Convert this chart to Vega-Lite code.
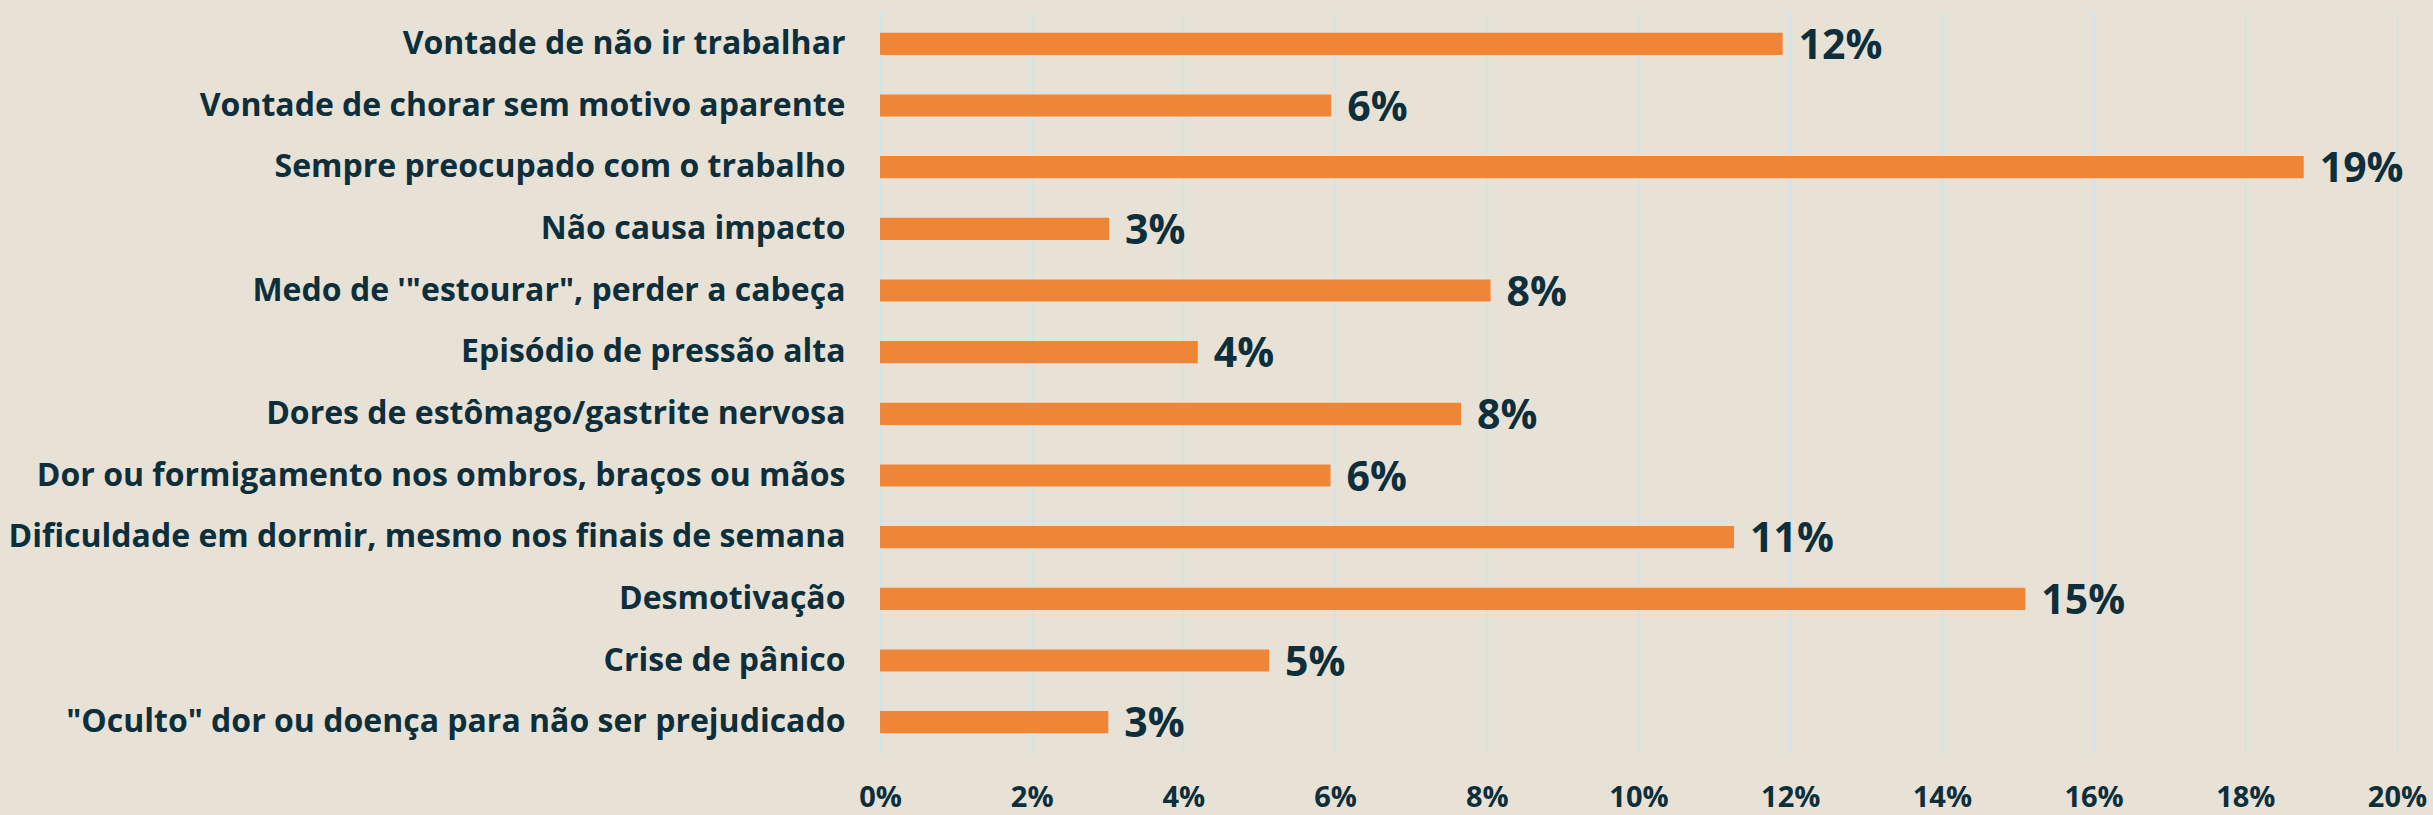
{
  "$schema": "https://vega.github.io/schema/vega-lite/v6.json",
  "width": 1517,
  "height": 740,
  "autosize": {"type": "none"},
  "padding": {"left": 880, "top": 13, "right": 36, "bottom": 62},
  "background": "#e8e1d6",
  "config": {"view": {"stroke": null}},
  "data": {
    "values": [
      {"cat": "Vontade de não ir trabalhar", "v": 11.9, "lbl": "12%"},
      {"cat": "Vontade de chorar sem motivo aparente", "v": 5.95, "lbl": "6%"},
      {"cat": "Sempre preocupado com o trabalho", "v": 18.77, "lbl": "19%"},
      {"cat": "Não causa impacto", "v": 3.02, "lbl": "3%"},
      {"cat": "Medo de '\"estourar\", perder a cabeça", "v": 8.05, "lbl": "8%"},
      {"cat": "Episódio de pressão alta", "v": 4.19, "lbl": "4%"},
      {"cat": "Dores de estômago/gastrite nervosa", "v": 7.66, "lbl": "8%"},
      {"cat": "Dor ou formigamento nos ombros, braços ou mãos", "v": 5.94, "lbl": "6%"},
      {"cat": "Dificuldade em dormir, mesmo nos finais de semana", "v": 11.26, "lbl": "11%"},
      {"cat": "Desmotivação", "v": 15.1, "lbl": "15%"},
      {"cat": "Crise de pânico", "v": 5.13, "lbl": "5%"},
      {"cat": "\"Oculto\" dor ou doença para não ser prejudicado", "v": 3.01, "lbl": "3%"}
    ]
  },
  "encoding": {
    "y": {
      "field": "cat", "type": "nominal", "sort": null, "title": null,
      "scale": {"paddingInner": 0.64, "paddingOuter": 0.32},
      "axis": {"domain": false, "ticks": false, "grid": false, "labelPadding": 35,
               "labelFont": "Open Sans", "labelFontWeight": "bold", "labelFontSize": 32,
               "labelColor": "#0d2f3b", "labelLimit": 1000}
    },
    "x": {
      "field": "v", "type": "quantitative", "title": null,
      "scale": {"domain": [0, 20]},
      "axis": {"values": [0,2,4,6,8,10,12,14,16,18,20], "labelExpr": "datum.value + '%'",
               "labelFlush": false, "labelBaseline": "middle",
               "domain": false, "ticks": false, "grid": true, "gridColor": "#c8e6ee", "gridWidth": 1.5,
               "labelPadding": 44, "labelFont": "Open Sans", "labelFontWeight": "bold",
               "labelFontSize": 29, "labelColor": "#0d2f3b"}
    }
  },
  "layer": [
    {"mark": {"type": "bar", "color": "#ef8536"}},
    {"mark": {"type": "text", "align": "left", "baseline": "middle", "dx": 16, "dy": 3,
              "font": "Open Sans", "fontWeight": "bold", "fontSize": 41, "color": "#0d2f3b"},
     "encoding": {"text": {"field": "lbl"}}}
  ]
}
